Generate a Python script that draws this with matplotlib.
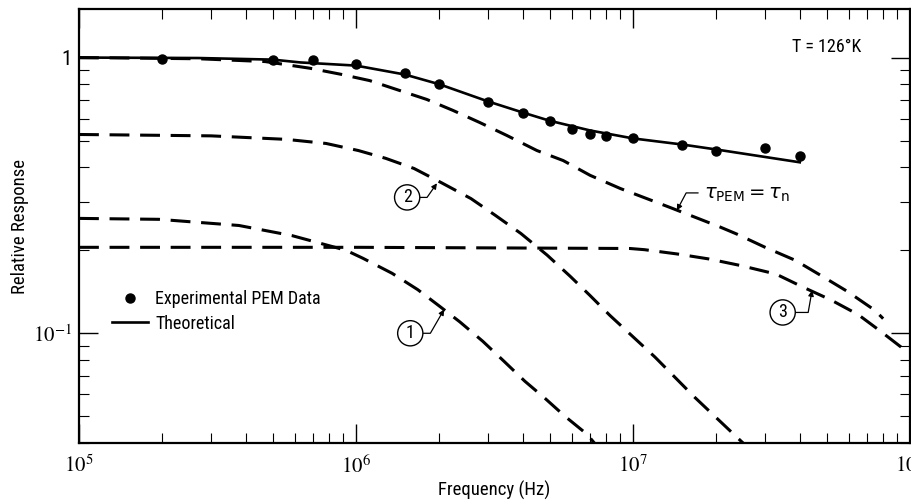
import matplotlib
matplotlib.use("Agg")
import matplotlib.pyplot as plt
from matplotlib import font_manager
from matplotlib.ticker import NullFormatter

_avail = {f.name for f in font_manager.fontManager.ttflist}
_cands = ['Liberation Sans Narrow', 'DejaVu Sans Condensed', 'Roboto Condensed',
          'Open Sans Condensed', 'Lato', 'Liberation Sans']
_fam = next((c for c in _cands if c in _avail), 'DejaVu Sans')
plt.rcParams['font.family'] = [_fam, 'DejaVu Sans']
plt.rcParams['mathtext.fontset'] = 'stix'

# ---------------- data ----------------
freq_exp = [2e5, 5e5, 7e5, 1e6, 1.5e6, 2e6, 3e6, 4e6, 5e6, 6e6, 7e6, 8e6,
            1e7, 1.5e7, 2e7, 3e7, 4e7]
resp_exp = [0.99, 0.98, 0.98, 0.95, 0.88, 0.80, 0.69, 0.63, 0.59, 0.55, 0.53,
            0.52, 0.51, 0.48, 0.46, 0.47, 0.44]

freq_theory = [1e5, 2.7e5, 5e5, 6.3e5, 1e6, 1.5e6, 2e6, 3e6, 4e6, 5e6, 7e6,
               1e7, 1.5e7, 2e7, 4e7]
resp_theory = [1.0, 0.996, 0.983, 0.96, 0.935, 0.868, 0.80, 0.693, 0.632,
               0.59, 0.544, 0.509, 0.484, 0.464, 0.417]

freq_tau = [1e5, 2.7e5, 4.7e5, 6.8e5, 8.8e5, 1.12e6, 1.44e6, 1.8e6, 2.24e6,
            2.8e6, 3.5e6, 4.5e6, 5.6e6, 7e6, 9e6, 1.36e7, 2.06e7, 2.37e7,
            3.0e7, 3.85e7, 4.77e7, 5.93e7, 7.48e7, 8.0e7]
resp_tau = [1.0, 0.99, 0.967, 0.915, 0.87, 0.825, 0.759, 0.705, 0.643, 0.581,
            0.522, 0.46, 0.423, 0.374, 0.335, 0.286, 0.243, 0.229, 0.205,
            0.184, 0.162, 0.142, 0.121, 0.113]

freq_c1 = [1e5, 1.94e5, 3.78e5, 5.88e5, 9.2e5, 1.06e6, 1.35e6, 1.67e6, 2.01e6,
           2.37e6, 2.87e6, 3.42e6, 4.07e6, 4.81e6, 5.68e6, 6.83e6, 7.6e6]
resp_c1 = [0.261, 0.259, 0.246, 0.226, 0.200, 0.187, 0.165, 0.144, 0.125,
           0.110, 0.0935, 0.0792, 0.067, 0.0581, 0.050, 0.043, 0.0378]

freq_c2 = [1e5, 3e5, 5.6e5, 7.8e5, 1.02e6, 1.28e6, 1.62e6, 2.03e6, 2.6e6,
           3.18e6, 3.94e6, 4.9e6, 5.93e6, 7e6, 8.26e6, 1.2e7, 1.67e7, 2.37e7,
           2.6e7]
resp_c2 = [0.526, 0.52, 0.505, 0.488, 0.46, 0.431, 0.396, 0.352, 0.308,
           0.268, 0.23, 0.192, 0.161, 0.137, 0.116, 0.082, 0.0586, 0.042,
           0.0385]

freq_c3 = [1e5, 1.03e6, 9.75e6, 1.1e7, 1.44e7, 1.88e7, 2.45e7, 3.28e7, 4.11e7,
           5.19e7, 6.49e7, 7.8e7, 9.3e7, 1e8]
resp_c3 = [0.205, 0.205, 0.203, 0.201, 0.194, 0.186, 0.176, 0.164, 0.147,
           0.132, 0.117, 0.102, 0.089, 0.0847]

xtick_vals = [1e5, 1e6, 1e7, 1e8]
xtick_labels = [r'$10^{5}$', r'$10^{6}$', r'$10^{7}$', r'$10^{8}$']
ytick_vals = [0.1, 1.0]
ytick_labels = [r'$10^{-1}$', '1']

# ---------------- figure ----------------
fig = plt.figure(figsize=(9.12, 5.0), dpi=100)
ax = fig.add_axes([79 / 912, 57 / 500, 831 / 912, 434 / 500])
ax.set_xscale('log')
ax.set_yscale('log')
ax.set_xlim(1e5, 1e8)
ax.set_ylim(0.04, 1.5)

dash = (0, (6.5, 3.5))
for fx, ry in [(freq_tau, resp_tau), (freq_c1, resp_c1),
               (freq_c2, resp_c2), (freq_c3, resp_c3)]:
    ax.plot(fx, ry, color='black', lw=2.2, linestyle=dash)

h_th, = ax.plot(freq_theory, resp_theory, color='black', lw=1.9,
                label='Theoretical')
h_ex, = ax.plot(freq_exp, resp_exp, 'o', color='black', ms=6.5,
                label='Experimental PEM Data')

ax.legend(handles=[h_ex, h_th], loc='upper left',
          bbox_to_anchor=(0.0397, 0.352), frameon=False, fontsize=13,
          handlelength=2.0, handletextpad=0.4, labelspacing=0.35,
          borderaxespad=0, borderpad=0)

# ticks
ax.set_xticks(xtick_vals)
ax.set_xticklabels(xtick_labels, fontsize=15)
ax.set_yticks(ytick_vals)
ax.set_yticklabels(ytick_labels, fontsize=15)
ax.xaxis.set_minor_formatter(NullFormatter())
ax.yaxis.set_minor_formatter(NullFormatter())
ax.tick_params(which='both', direction='in', top=True, right=True)
ax.tick_params(which='major', length=14, width=1.0, pad=5)
ax.tick_params(axis='x', which='major', pad=8)
ax.tick_params(which='minor', length=7, width=0.8)
for sp in ax.spines.values():
    sp.set_linewidth(1.6)

ax.set_xlabel('Frequency (Hz)', fontsize=13.5, labelpad=3)
ax.set_ylabel('Relative Response', fontsize=13.5, labelpad=3)

ax.text(0.858, 0.912, 'T = 126°K', transform=ax.transAxes, fontsize=13,
        ha='left', va='center')

# annotations
circ = dict(boxstyle='circle,pad=0.2', fc='white', ec='black', lw=1.0)
arrow = dict(arrowstyle='-|>', color='black', lw=0.9, mutation_scale=8,
             shrinkA=0, shrinkB=0, relpos=(1.0, 0.5))
ax.annotate('1', xy=(2.08e6, 0.122), xytext=(1.57e6, 0.100),
            fontsize=13, ha='center', va='center', bbox=circ,
            arrowprops=dict(arrow, connectionstyle='angle,angleA=0,angleB=60,rad=0'))
ax.annotate('2', xy=(1.96e6, 0.350), xytext=(1.53e6, 0.311),
            fontsize=13, ha='center', va='center', bbox=circ,
            arrowprops=dict(arrow, connectionstyle='angle,angleA=0,angleB=55,rad=0'))
ax.annotate('3', xy=(4.43e7, 0.143), xytext=(3.47e7, 0.119),
            fontsize=13, ha='center', va='center', bbox=circ,
            arrowprops=dict(arrow, connectionstyle='angle,angleA=0,angleB=80,rad=0'))
ax.annotate(r'$\tau_{\mathrm{PEM}} = \tau_{\mathrm{n}}$', xy=(1.44e7, 0.279),
            xytext=(1.80e7, 0.318), fontsize=14, ha='left', va='center',
            math_fontfamily='dejavusans',
            arrowprops=dict(arrowstyle='-|>', color='black', lw=0.9,
                            mutation_scale=8, shrinkA=2, shrinkB=0,
                            relpos=(0.0, 0.6),
                            connectionstyle='angle,angleA=180,angleB=62,rad=0'))

fig.savefig('out.png', dpi=100)
